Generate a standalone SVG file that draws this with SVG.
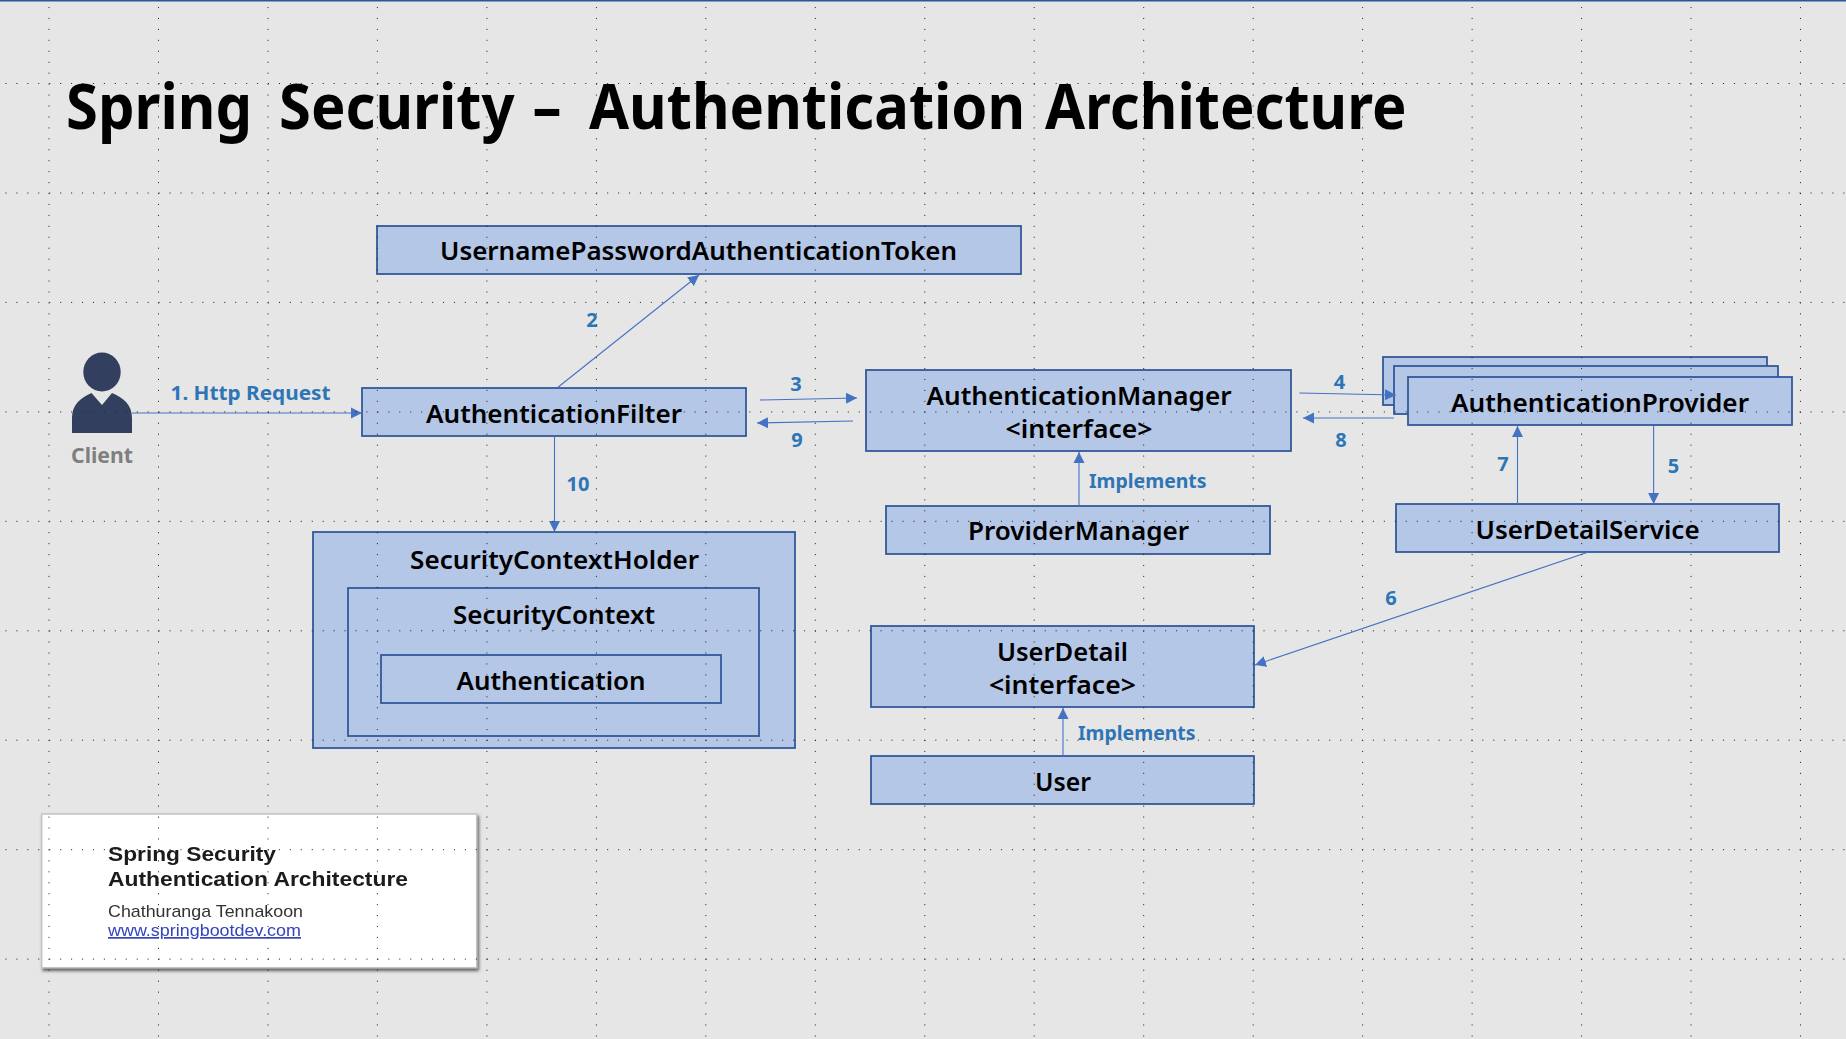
<svg xmlns="http://www.w3.org/2000/svg" width="1846" height="1039" viewBox="0 0 1846 1039">
<style>
.b{fill:#b4c7e7;stroke:#2f5597;stroke-width:1.75}
.n{font-family:"Noto Sans","Open Sans","DejaVu Sans",sans-serif;font-weight:600;font-size:26px;fill:#000;text-anchor:middle}
.l{font-family:"Noto Sans","Open Sans","DejaVu Sans",sans-serif;font-weight:700;font-size:20px;fill:#2e75b6;text-anchor:middle}
.c{fill:none;stroke:#4472c4;stroke-width:1.1;marker-end:url(#arrow)}
.k{font-family:"Liberation Sans",Arial,sans-serif;filter:url(#soft)}
</style>
<defs>
<marker id="arrow" markerUnits="userSpaceOnUse" markerWidth="12" markerHeight="12" refX="11" refY="6" orient="auto"><path d="M0 .5L11 6L0 11.5Z" fill="#4472c4"/></marker>
<filter id="shadow" x="-5%" y="-5%" width="110%" height="112%"><feDropShadow dx="1.5" dy="2.5" stdDeviation="1.5" flood-color="#444" flood-opacity=".85"/></filter>
<filter id="soft" x="-2%" y="-10%" width="104%" height="120%"><feGaussianBlur stdDeviation=".35"/></filter>
</defs>
<rect width="1846" height="1039" fill="#e6e6e6"/>
<rect width="1846" height="1.5" fill="#2f5597"/>
<text y="129" transform="scale(.92 1)" style="font-family:'Noto Sans','Open Sans',sans-serif;font-weight:700;font-size:63px;fill:#000"><tspan x="71.7">Spring </tspan><tspan x="303.3">Security </tspan><tspan x="578.8">– </tspan><tspan x="640.2">Authentication </tspan><tspan x="1135.9">Architecture</tspan></text>

<g id="client">
<ellipse cx="102" cy="372" rx="18.7" ry="19.5" fill="#333f5e"/>
<path d="M72 433V418C72 405 80 398 91.5 393L102 405L112 393C124 398 132 405 132 418V433Z" fill="#333f5e"/>
<text x="102" y="463" text-anchor="middle" textLength="62" lengthAdjust="spacingAndGlyphs" style="font-family:'Noto Sans',sans-serif;font-weight:700;font-size:22px;fill:#7f7f7f">Client</text>
</g>
<g id="token"><rect class="b" x="377" y="226" width="644" height="48"/><text class="n" x="698.5" y="260" textLength="517" lengthAdjust="spacingAndGlyphs">UsernamePasswordAuthenticationToken</text></g>
<g id="filter"><rect class="b" x="362" y="388" width="384" height="48"/><text class="n" x="554" y="423" textLength="256" lengthAdjust="spacingAndGlyphs">AuthenticationFilter</text></g>
<g id="manager"><rect class="b" x="866" y="370" width="425" height="81"/><text class="n" x="1079" y="405" textLength="305" lengthAdjust="spacingAndGlyphs">AuthenticationManager</text><text class="n" x="1079" y="438" textLength="147" lengthAdjust="spacingAndGlyphs">&lt;interface&gt;</text></g>
<g id="provider-manager"><rect class="b" x="886" y="506" width="384" height="48"/><text class="n" x="1078.5" y="540" textLength="221" lengthAdjust="spacingAndGlyphs">ProviderManager</text></g>
<g id="user-detail"><rect class="b" x="871" y="626" width="383" height="81"/><text class="n" x="1062.4" y="661" textLength="131" lengthAdjust="spacingAndGlyphs">UserDetail</text><text class="n" x="1062.4" y="694" textLength="147" lengthAdjust="spacingAndGlyphs">&lt;interface&gt;</text></g>
<g id="user"><rect class="b" x="871" y="756" width="383" height="48"/><text class="n" x="1063" y="791" textLength="56" lengthAdjust="spacingAndGlyphs">User</text></g>
<g id="holder"><rect class="b" x="313" y="532" width="482" height="216"/><text class="n" x="554.6" y="569" textLength="289" lengthAdjust="spacingAndGlyphs">SecurityContextHolder</text></g>
<g id="context"><rect class="b" x="348" y="588" width="411" height="148"/><text class="n" x="554" y="624" textLength="202" lengthAdjust="spacingAndGlyphs">SecurityContext</text></g>
<g id="authentication"><rect class="b" x="381" y="655" width="340" height="48"/><text class="n" x="551" y="690" textLength="189" lengthAdjust="spacingAndGlyphs">Authentication</text></g>
<g id="provider-back"><rect class="b" x="1383" y="357" width="384" height="48"/></g>
<g id="provider-mid"><rect class="b" x="1394" y="366" width="384" height="48"/></g>
<g id="provider"><rect class="b" x="1408" y="377" width="384" height="48"/><text class="n" x="1600" y="412" textLength="298" lengthAdjust="spacingAndGlyphs">AuthenticationProvider</text></g>
<g id="user-detail-service"><rect class="b" x="1396" y="504" width="383" height="48"/><text class="n" x="1587.6" y="539" textLength="224" lengthAdjust="spacingAndGlyphs">UserDetailService</text></g>

<g id="connectors">
<path class="c" d="M132 413H362"/>
<path class="c" d="M557 388L699 275"/>
<path class="c" d="M554.5 436V532"/>
<path class="c" d="M760 400L857 398"/>
<path class="c" d="M853 421L757 423"/>
<path class="c" d="M1079 506V452"/>
<path class="c" d="M1063 756V708"/>
<path class="c" d="M1299.5 393L1396 395"/>
<path class="c" d="M1394 418H1303"/>
<path class="c" d="M1517.5 504V426"/>
<path class="c" d="M1653.6 425V504"/>
<path class="c" d="M1588.5 552L1255 665"/>
</g>

<g id="labels">
<text class="l" x="250.5" y="400" textLength="160" lengthAdjust="spacingAndGlyphs">1. Http Request</text>
<text class="l" x="592" y="326.7">2</text>
<text class="l" x="796" y="391">3</text>
<text class="l" x="1339.6" y="389">4</text>
<text class="l" x="1673.5" y="472.7">5</text>
<text class="l" x="1391" y="605">6</text>
<text class="l" x="1503" y="470.7">7</text>
<text class="l" x="1341" y="447">8</text>
<text class="l" x="797" y="447">9</text>
<text class="l" x="578" y="491">10</text>
<text class="l" x="1147.8" y="488" textLength="117.5" lengthAdjust="spacingAndGlyphs">Implements</text>
<text class="l" x="1136.8" y="740" textLength="117.5" lengthAdjust="spacingAndGlyphs">Implements</text>
</g>

<g id="card">
<rect x="41.7" y="814" width="435" height="153.7" fill="#fff" stroke="#c4c4c4" stroke-width="1.5" filter="url(#shadow)"/>
<text class="k" x="108" y="861" font-size="21" font-weight="700" fill="#1a1a1a" textLength="168" lengthAdjust="spacingAndGlyphs">Spring Security</text>
<text class="k" x="108" y="885.7" font-size="21" font-weight="700" fill="#1a1a1a" textLength="300" lengthAdjust="spacingAndGlyphs">Authentication Architecture</text>
<text class="k" x="108" y="917" font-size="17" fill="#333" textLength="195" lengthAdjust="spacingAndGlyphs">Chathuranga Tennakoon</text>
<text class="k" x="108" y="936" font-size="17" fill="#3344bb" text-decoration="underline" textLength="193" lengthAdjust="spacingAndGlyphs">www.springbootdev.com</text>
</g>

<g id="guides" fill="none" stroke="#2a2a2a" stroke-width="1" stroke-dasharray="1.1 9.84">
<path d="M49 7V1039M158.5 7V1039M268 7V1039M377.4 7V1039M486.9 7V1039M596.4 7V1039M705.8 7V1039M815.3 7V1039M924.8 7V1039M1034.2 7V1039M1143.7 7V1039M1253.2 7V1039M1362.6 7V1039M1472.1 7V1039M1581.6 7V1039M1691 7V1039M1800.5 7V1039"/>
<path d="M5.4 83.5H1846M5.4 193H1846M5.4 302.4H1846M5.4 411.9H1846M5.4 521.3H1846M5.4 630.8H1846M5.4 740.2H1846M5.4 849.7H1846M5.4 959.1H1846"/>
</g>
</svg>
